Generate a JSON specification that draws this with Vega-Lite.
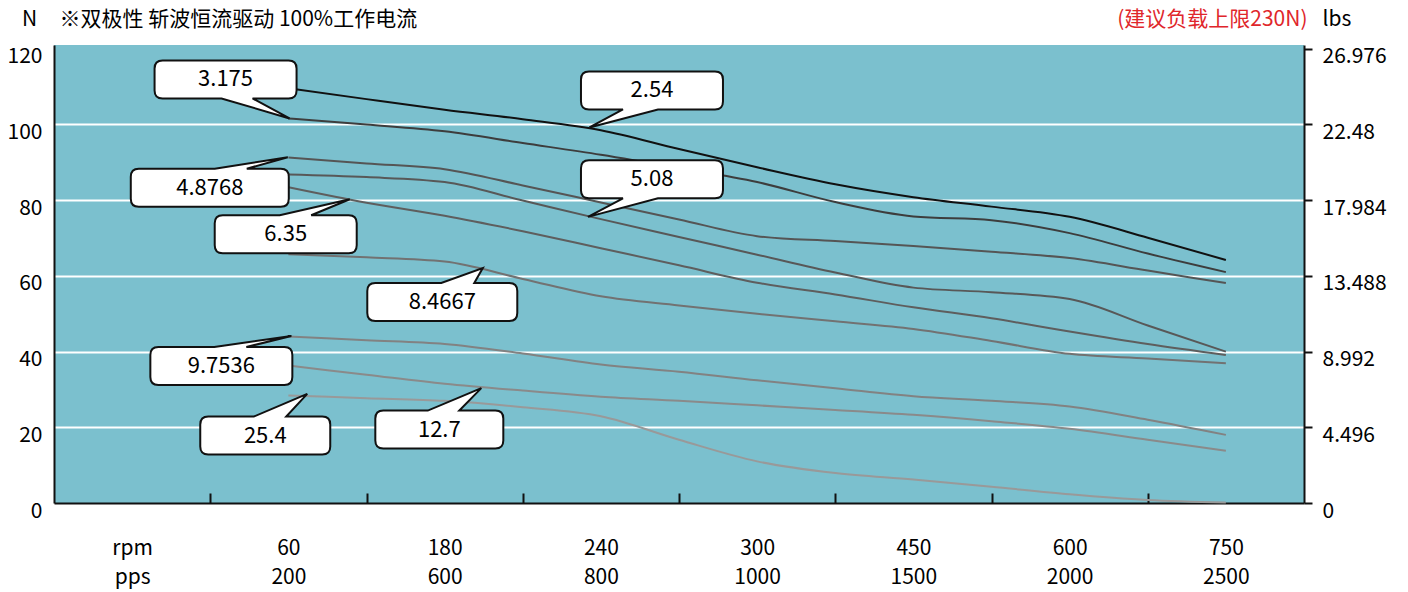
{
  "$schema": "https://vega.github.io/schema/vega-lite/v6.json",
  "width": 1250,
  "height": 458,
  "autosize": {"type": "none"},
  "padding": {"left": 54, "top": 45, "right": 104, "bottom": 89},
  "background": "white",
  "config": {
    "font": "Noto Sans CJK SC",
    "view": {"fill": "#7bc0ce", "stroke": null},
    "axis": {"labelFont": "Noto Sans CJK SC", "titleFont": "Noto Sans CJK SC", "labelFontSize": 21, "titleFontSize": 21, "titleFontWeight": "normal", "labelColor": "#000", "titleColor": "#000", "labelFlush": false, "labelOverlap": false}
  },
  "datasets": {
    "curves": [
      {"series": "2.54", "pos": 1.5, "force": 109.6}, {"series": "2.54", "pos": 2.0, "force": 106.7}, {"series": "2.54", "pos": 2.5, "force": 103.9}, {"series": "2.54", "pos": 3.0, "force": 101.4}, {"series": "2.54", "pos": 3.5, "force": 98.5}, {"series": "2.54", "pos": 4.0, "force": 93.5}, {"series": "2.54", "pos": 4.5, "force": 88.7}, {"series": "2.54", "pos": 5.0, "force": 84.2}, {"series": "2.54", "pos": 5.5, "force": 80.8}, {"series": "2.54", "pos": 6.0, "force": 78.3}, {"series": "2.54", "pos": 6.5, "force": 75.6}, {"series": "2.54", "pos": 7.0, "force": 70.1}, {"series": "2.54", "pos": 7.5, "force": 64.2},
      {"series": "3.175", "pos": 1.5, "force": 101.6}, {"series": "3.175", "pos": 2.0, "force": 100.0}, {"series": "3.175", "pos": 2.5, "force": 98.2}, {"series": "3.175", "pos": 3.0, "force": 95.1}, {"series": "3.175", "pos": 3.5, "force": 92.0}, {"series": "3.175", "pos": 4.0, "force": 88.5}, {"series": "3.175", "pos": 4.5, "force": 84.8}, {"series": "3.175", "pos": 5.0, "force": 79.5}, {"series": "3.175", "pos": 5.5, "force": 75.7}, {"series": "3.175", "pos": 6.0, "force": 74.7}, {"series": "3.175", "pos": 6.5, "force": 71.3}, {"series": "3.175", "pos": 7.0, "force": 65.9}, {"series": "3.175", "pos": 7.5, "force": 61.0},
      {"series": "4.8768", "pos": 1.5, "force": 91.3}, {"series": "4.8768", "pos": 2.0, "force": 89.7}, {"series": "4.8768", "pos": 2.5, "force": 88.2}, {"series": "4.8768", "pos": 3.0, "force": 83.9}, {"series": "4.8768", "pos": 3.5, "force": 79.4}, {"series": "4.8768", "pos": 4.0, "force": 74.9}, {"series": "4.8768", "pos": 4.5, "force": 70.5}, {"series": "4.8768", "pos": 5.0, "force": 69.2}, {"series": "4.8768", "pos": 5.5, "force": 67.9}, {"series": "4.8768", "pos": 6.0, "force": 66.4}, {"series": "4.8768", "pos": 6.5, "force": 64.7}, {"series": "4.8768", "pos": 7.0, "force": 61.4}, {"series": "4.8768", "pos": 7.5, "force": 58.1},
      {"series": "5.08", "pos": 1.5, "force": 86.8}, {"series": "5.08", "pos": 2.0, "force": 86.1}, {"series": "5.08", "pos": 2.5, "force": 84.8}, {"series": "5.08", "pos": 3.0, "force": 79.9}, {"series": "5.08", "pos": 3.5, "force": 75.0}, {"series": "5.08", "pos": 4.0, "force": 70.3}, {"series": "5.08", "pos": 4.5, "force": 65.6}, {"series": "5.08", "pos": 5.0, "force": 60.9}, {"series": "5.08", "pos": 5.5, "force": 56.9}, {"series": "5.08", "pos": 6.0, "force": 55.7}, {"series": "5.08", "pos": 6.5, "force": 53.9}, {"series": "5.08", "pos": 7.0, "force": 46.9}, {"series": "5.08", "pos": 7.5, "force": 40.0},
      {"series": "6.35", "pos": 1.5, "force": 83.4}, {"series": "6.35", "pos": 2.0, "force": 79.3}, {"series": "6.35", "pos": 2.5, "force": 75.9}, {"series": "6.35", "pos": 3.0, "force": 71.8}, {"series": "6.35", "pos": 3.5, "force": 67.3}, {"series": "6.35", "pos": 4.0, "force": 62.8}, {"series": "6.35", "pos": 4.5, "force": 58.2}, {"series": "6.35", "pos": 5.0, "force": 55.1}, {"series": "6.35", "pos": 5.5, "force": 51.7}, {"series": "6.35", "pos": 6.0, "force": 48.8}, {"series": "6.35", "pos": 6.5, "force": 45.3}, {"series": "6.35", "pos": 7.0, "force": 42.0}, {"series": "6.35", "pos": 7.5, "force": 39.1},
      {"series": "8.4667", "pos": 1.5, "force": 65.7}, {"series": "8.4667", "pos": 2.0, "force": 64.9}, {"series": "8.4667", "pos": 2.5, "force": 63.8}, {"series": "8.4667", "pos": 3.0, "force": 59.2}, {"series": "8.4667", "pos": 3.5, "force": 54.6}, {"series": "8.4667", "pos": 4.0, "force": 52.2}, {"series": "8.4667", "pos": 4.5, "force": 50.0}, {"series": "8.4667", "pos": 5.0, "force": 48.0}, {"series": "8.4667", "pos": 5.5, "force": 46.0}, {"series": "8.4667", "pos": 6.0, "force": 42.8}, {"series": "8.4667", "pos": 6.5, "force": 39.4}, {"series": "8.4667", "pos": 7.0, "force": 38.2}, {"series": "8.4667", "pos": 7.5, "force": 36.9},
      {"series": "9.7536", "pos": 1.5, "force": 44.0}, {"series": "9.7536", "pos": 2.0, "force": 43.0}, {"series": "9.7536", "pos": 2.5, "force": 42.0}, {"series": "9.7536", "pos": 3.0, "force": 39.5}, {"series": "9.7536", "pos": 3.5, "force": 36.6}, {"series": "9.7536", "pos": 4.0, "force": 34.7}, {"series": "9.7536", "pos": 4.5, "force": 32.4}, {"series": "9.7536", "pos": 5.0, "force": 30.3}, {"series": "9.7536", "pos": 5.5, "force": 28.2}, {"series": "9.7536", "pos": 6.0, "force": 27.0}, {"series": "9.7536", "pos": 6.5, "force": 25.5}, {"series": "9.7536", "pos": 7.0, "force": 22.0}, {"series": "9.7536", "pos": 7.5, "force": 18.0},
      {"series": "12.7", "pos": 1.5, "force": 36.3}, {"series": "12.7", "pos": 2.0, "force": 33.9}, {"series": "12.7", "pos": 2.5, "force": 31.5}, {"series": "12.7", "pos": 3.0, "force": 29.7}, {"series": "12.7", "pos": 3.5, "force": 28.1}, {"series": "12.7", "pos": 4.0, "force": 27.0}, {"series": "12.7", "pos": 4.5, "force": 25.8}, {"series": "12.7", "pos": 5.0, "force": 24.6}, {"series": "12.7", "pos": 5.5, "force": 23.3}, {"series": "12.7", "pos": 6.0, "force": 21.6}, {"series": "12.7", "pos": 6.5, "force": 19.6}, {"series": "12.7", "pos": 7.0, "force": 16.7}, {"series": "12.7", "pos": 7.5, "force": 13.8},
      {"series": "25.4", "pos": 1.5, "force": 28.4}, {"series": "25.4", "pos": 2.0, "force": 27.7}, {"series": "25.4", "pos": 2.5, "force": 27.0}, {"series": "25.4", "pos": 3.0, "force": 25.3}, {"series": "25.4", "pos": 3.5, "force": 22.9}, {"series": "25.4", "pos": 4.0, "force": 16.7}, {"series": "25.4", "pos": 4.5, "force": 11.0}, {"series": "25.4", "pos": 5.0, "force": 7.9}, {"series": "25.4", "pos": 5.5, "force": 6.2}, {"series": "25.4", "pos": 6.0, "force": 4.3}, {"series": "25.4", "pos": 6.5, "force": 2.3}, {"series": "25.4", "pos": 7.0, "force": 0.8}, {"series": "25.4", "pos": 7.5, "force": 0.1}
    ],
    "callouts": [
      {"label": "3.175", "lx": 1.098, "ly": 111.9},
      {"label": "2.54", "lx": 3.827, "ly": 109.0},
      {"label": "5.08", "lx": 3.827, "ly": 85.5},
      {"label": "4.8768", "lx": 0.997, "ly": 83.3},
      {"label": "6.35", "lx": 1.483, "ly": 71.0},
      {"label": "8.4667", "lx": 2.485, "ly": 53.1},
      {"label": "9.7536", "lx": 1.071, "ly": 36.2},
      {"label": "25.4", "lx": 1.352, "ly": 17.8},
      {"label": "12.7", "lx": 2.466, "ly": 19.4}
    ]
  },
  "layer": [
    {
      "data": {"name": "curves"},
      "mark": {"type": "line", "interpolate": "monotone", "strokeWidth": 2},
      "encoding": {
        "x": {
          "field": "pos", "type": "quantitative",
          "scale": {"domain": [0, 8], "nice": false, "zero": false},
          "axis": {
            "orient": "bottom",
            "values": [0.5, 1.5, 2.5, 3.5, 4.5, 5.5, 6.5, 7.5],
            "labelExpr": "[['rpm','pps'],['60','200'],['180','600'],['240','800'],['300','1000'],['450','1500'],['600','2000'],['750','2500']][floor(datum.value)]",
            "ticks": false, "grid": false,
            "domain": true, "domainColor": "#111", "domainWidth": 2,
            "labelPadding": 34, "labelBaseline": "top", "labelLineHeight": 29,
            "title": "※双极性 斩波恒流驱动 100%工作电流",
            "titleX": 5, "titleY": -484, "titleAlign": "left", "titleBaseline": "middle", "titleAnchor": "start"
          }
        },
        "y": {
          "field": "force", "type": "quantitative",
          "scale": {"domain": [0, 121], "nice": false, "zero": true},
          "axis": {
            "orient": "left",
            "values": [0, 20, 40, 60, 80, 100, 120],
            "ticks": false, "tickSize": 0,
            "labelPadding": 12, "labelOffset": 8,
            "grid": true, "gridColor": "white", "gridWidth": 2,
            "gridOpacity": {"condition": {"test": "datum.value == 0 || datum.value == 120", "value": 0}, "value": 1},
            "domainColor": "#111", "domainWidth": 2,
            "title": "N", "titleAngle": 0, "titleX": -25, "titleY": -26, "titleAlign": "center", "titleBaseline": "middle"
          }
        },
        "color": {
          "field": "series", "type": "nominal", "legend": null,
          "scale": {
            "domain": ["2.54", "3.175", "4.8768", "5.08", "6.35", "8.4667", "9.7536", "12.7", "25.4"],
            "range": ["#111111", "#3d3d3d", "#555555", "#585858", "#5e5e5e", "#727272", "#828282", "#8a8a8a", "#999999"]
          }
        },
        "detail": {"field": "series"}
      }
    },
    {
      "data": {"name": "callouts"},
      "mark": {"type": "point", "filled": true, "fill": "white", "stroke": "#111", "strokeWidth": 2, "opacity": 1, "size": 4},
      "encoding": {
        "x": {
          "field": "lx", "type": "quantitative",
          "axis": {
            "orient": "bottom",
            "values": [1, 2, 3, 4, 5, 6, 7],
            "labels": false, "grid": false, "domain": false,
            "ticks": true, "tickSize": -10, "tickColor": "#111", "tickWidth": 2,
            "title": "(建议负载上限230N)",
            "titleX": 1253, "titleY": -484, "titleAlign": "right", "titleBaseline": "middle", "titleColor": "#e0262b"
          }
        },
        "y": {
          "field": "ly", "type": "quantitative",
          "axis": {
            "orient": "right",
            "values": [0, 20, 40, 60, 80, 100, 120],
            "labelExpr": "format(datum.value * 0.2248, '.4~f')",
            "grid": false, "ticks": true, "tickSize": 8, "tickColor": "#111", "tickWidth": 2,
            "domainColor": "#111", "domainWidth": 2,
            "labelPadding": 10, "labelOffset": 8, "labelAlign": "left",
            "title": "lbs", "titleAngle": 0, "titleX": 18, "titleY": -26, "titleAlign": "left", "titleBaseline": "middle"
          }
        },
        "shape": {
          "field": "label", "type": "nominal", "legend": null,
          "scale": {
            "domain": ["3.175", "2.54", "5.08", "4.8768", "6.35", "8.4667", "9.7536", "25.4", "12.7"],
            "range": [
              "M -63 -19 L 63 -19 Q 71 -19 71 -11 L 71 11 Q 71 19 63 19 L 27 19 L 64 39 L -4 19 L -63 19 Q -71 19 -71 11 L -71 -11 Q -71 -19 -63 -19 Z",
              "M -63 -19 L 63 -19 Q 71 -19 71 -11 L 71 11 Q 71 19 63 19 L 6 19 L -62.5 37 L -29 19 L -63 19 Q -71 19 -71 11 L -71 -11 Q -71 -19 -63 -19 Z",
              "M -63 -19 L 63 -19 Q 71 -19 71 -11 L 71 11 Q 71 19 63 19 L 6 19 L -64 37.5 L -29 19 L -63 19 Q -71 19 -71 11 L -71 -11 Q -71 -19 -63 -19 Z",
              "M -71 -19 L 5 -19 L 78 -30.5 L 37 -19 L 71 -19 Q 79 -19 79 -11 L 79 11 Q 79 19 71 19 L -71 19 Q -79 19 -79 11 L -79 -11 Q -79 -19 -71 -19 Z",
              "M -63 -19 L -6 -19 L 64 -35 L 25.5 -19 L 63 -19 Q 71 -19 71 -11 L 71 11 Q 71 19 63 19 L -63 19 Q -71 19 -71 11 L -71 -11 Q -71 -19 -63 -19 Z",
              "M -67 -19 L -1 -19 L 40.5 -34 L 32 -19 L 67 -19 Q 75 -19 75 -11 L 75 11 Q 75 19 67 19 L -67 19 Q -75 19 -75 11 L -75 -11 Q -75 -19 -67 -19 Z",
              "M -63 -19 L -7 -19 L 70 -30 L 25 -19 L 63 -19 Q 71 -19 71 -11 L 71 11 Q 71 19 63 19 L -63 19 Q -71 19 -71 11 L -71 -11 Q -71 -19 -63 -19 Z",
              "M -57 -19 L -11.5 -19 L 42 -41.7 L 21 -19 L 57 -19 Q 65 -19 65 -11 L 65 11 Q 65 19 57 19 L -57 19 Q -65 19 -65 11 L -65 -11 Q -65 -19 -57 -19 Z",
              "M -56 -19 L -11.5 -19 L 42 -41.4 L 20 -19 L 56 -19 Q 64 -19 64 -11 L 64 11 Q 64 19 56 19 L -56 19 Q -64 19 -64 11 L -64 -11 Q -64 -19 -56 -19 Z"
            ]
          }
        }
      }
    },
    {
      "data": {"name": "callouts"},
      "mark": {"type": "text", "fontSize": 22, "align": "center", "baseline": "middle", "color": "#000", "font": "Noto Sans CJK SC"},
      "encoding": {
        "x": {"field": "lx", "type": "quantitative", "axis": null},
        "y": {"field": "ly", "type": "quantitative", "axis": null},
        "text": {"field": "label"}
      }
    }
  ],
  "resolve": {"axis": {"x": "independent", "y": "independent"}}
}
